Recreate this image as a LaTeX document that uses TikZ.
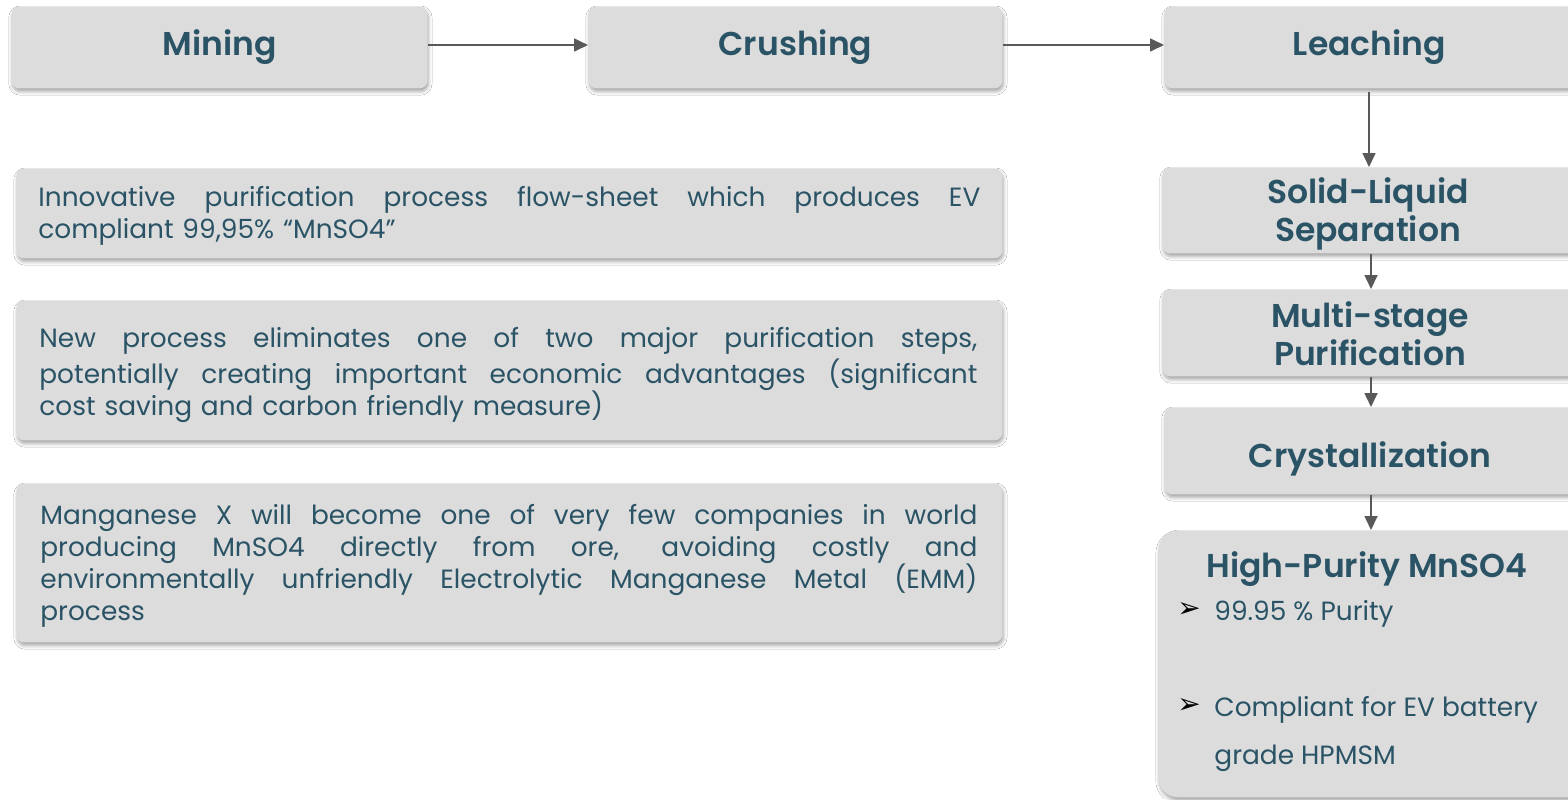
\documentclass[tikz,border=0pt]{standalone}
\usepackage{fontspec}
\setmainfont{Poppins}
\newfontfamily\headfont{Poppins}[UprightFont={* SemiBold}]
\newfontfamily\symfont{DejaVu Sans}
\usetikzlibrary{arrows.meta,shadows.blur}
\definecolor{boxfill}{HTML}{DCDCDC}
\definecolor{txt}{HTML}{2A5366}
\definecolor{arrowc}{HTML}{595959}
\newcommand\jline[1]{\makebox[\linewidth][s]{\spaceskip=0.28em plus 1fil\relax #1}}
\begin{document}
\begin{tikzpicture}[x=0.5pt,y=-0.5pt,
 box/.style={fill=boxfill, rounded corners=4pt, anchor=north west, inner sep=0pt,
   blur shadow={shadow xshift=0.5pt, shadow yshift=-1.6pt, shadow blur radius=1.8pt, shadow opacity=35}},
 hfont/.style={font=\headfont\fontsize{16.5}{19}\selectfont, text=txt},
 head/.style={box, hfont, align=center},
 lab/.style={hfont, align=center, anchor=north, inner sep=0pt},
 body/.style={font=\fontsize{13.2}{16}\selectfont, text=txt, align=left, anchor=north west, inner sep=0pt, text width=470pt},
 bul/.style={font=\symfont\fontsize{14}{14}\selectfont, anchor=base west, inner sep=0pt},
 arr/.style={draw=arrowc, line width=0.8pt, -{Triangle[length=7pt,width=6.5pt]}}
]
\useasboundingbox (0,0) rectangle (1568,799);
\clip (0,0) rectangle (1568,799);
\fill[white] (0,0) rectangle (1568,799);

% top row
\node[head, minimum width=208pt, minimum height=41pt] (mining) at (11,6) {Mining};
\node[head, minimum width=207pt, minimum height=41pt] (crushing) at (588,6) {Crushing};
\node[head, minimum width=205pt, minimum height=41pt] (leaching) at (1164,6) {Leaching};

% right column boxes
\node[box, minimum width=206pt, minimum height=43pt] (solid) at (1162,167) {};
\node[box, minimum width=206pt, minimum height=43.5pt] (multi) at (1162,289) {};
\node[box, minimum width=206pt, minimum height=43.5pt] (cryst) at (1164,407) {};
\node[box, rounded corners=10pt, minimum width=216pt, minimum height=133.5pt] (hp) at (1158,530) {};

% right column labels
\node[lab] (solidlab) at (1368,203-26.6) {\strut Solid-Liquid\\Separation};
\node[lab] (multilab) at (1370,327-26.6) {\strut Multi-stage\\Purification};
\node[lab] (crystlab) at (1370,467-26.6) {\strut Crystallization};
\node[lab] (hptitle) at (1367,577-26.6) {\strut High-Purity MnSO4};

\node[bul] (b1) at (1177,617) {➢};
\node[font=\fontsize{13.2}{16}\selectfont, text=txt, anchor=base west, inner sep=0pt] (i1) at (1214,620) {99.95 \% Purity};
\node[bul] (b2) at (1177,713) {➢};
\node[font=\fontsize{13.2}{24}\selectfont, text=txt, anchor=north west, inner sep=0pt, align=left] (i2) at (1214,716-33.6) {\strut Compliant for EV battery\\grade HPMSM};

% arrows
\draw[arr] (mining.east |- 0,45) -- (crushing.west |- 0,45);
\draw[arr] (crushing.east |- 0,45) -- (leaching.west |- 0,45);
\draw[arr] (leaching.south -| 1369,0) ++(0,3) -- (solid.north -| 1369,0);
\draw[arr] (solid.south -| 1371,0) -- (multi.north -| 1371,0);
\draw[arr] (multi.south -| 1371,0) -- (cryst.north -| 1371,0);
\draw[arr] (cryst.south -| 1371,0) -- (hp.north -| 1371,0);

% left text boxes
\node[box, minimum width=493pt, minimum height=45pt] (p1) at (16,168) {};
\node[box, minimum width=493pt, minimum height=70pt] (p2) at (16,300) {};
\node[box, minimum width=493pt, minimum height=79.5pt] (p3) at (16,483) {};

\node[body, text width=471pt] (t1) at (38,206-22.4) {\strut\jline{Innovative purification process flow-sheet which produces EV}\\compliant 99,95\% “MnSO4”};
\node[body, text width=469pt] (t2) at (39,347-22.4) {\strut\jline{New process eliminates one of two major purification steps,}\\\jline{potentially creating important economic advantages (significant}\\cost saving and carbon friendly measure)};
\node[body, text width=468.5pt] (t3) at (40,524-22.4) {\strut\jline{Manganese X will become one of very few companies in world}\\\jline{producing MnSO4 directly from ore, avoiding costly and}\\\jline{environmentally unfriendly Electrolytic Manganese Metal (EMM)}\\process};
\end{tikzpicture}
\end{document}
